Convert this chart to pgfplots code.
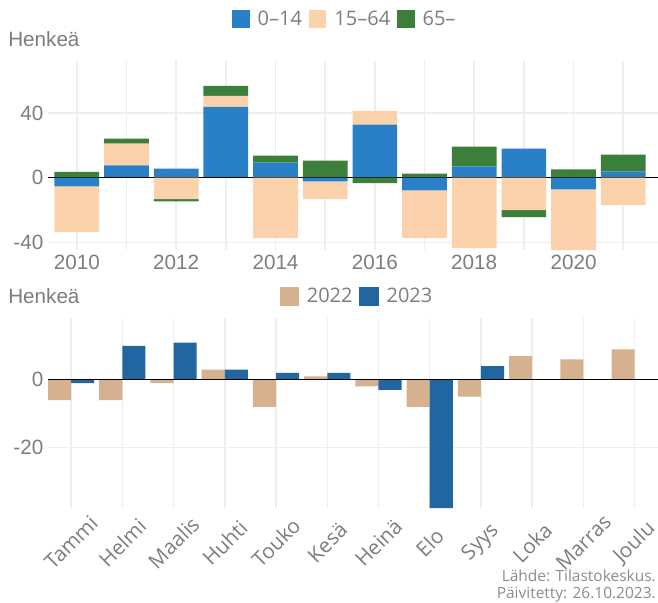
\documentclass[border=0pt]{standalone}
\usepackage{fontspec}
\setmainfont{Liberation Sans}
\newfontfamily\legfont{Open Sans}
\usepackage{pgfplots}
\usepackage{pgfplotstable}
\pgfplotsset{compat=1.18}
\definecolor{cblue}{RGB}{42,128,198}
\definecolor{cpeach}{RGB}{252,210,172}
\definecolor{cgreen}{RGB}{59,127,59}
\definecolor{ctan}{RGB}{214,177,143}
\definecolor{cdblue}{RGB}{33,102,161}
\definecolor{txt}{RGB}{125,125,125}
\definecolor{captxt}{RGB}{140,140,140}
\definecolor{gridc}{RGB}{238,238,238}

% positive parts (stacked upward: 0-14, 15-64, 65-)
\pgfplotstableread{
year blue peach green
2010 0    0    3.7
2011 7.6  13.5 3.1
2012 5.7  0    0
2013 43.9 6.8  6.1
2014 9.4  0    4.3
2015 0    0    10.6
2016 32.8 8.6  0
2017 0    0    2.6
2018 7.0  0    12.3
2019 18.0 0    0
2020 0    0    5.1
2021 3.9  0    10.4
}\pos
% negative parts (stacked downward)
\pgfplotstableread{
year blue peach green
2010 -5.3 -28.2 0
2011 0    0     0
2012 0    -13.3 -1.3
2013 0    0     0
2014 0    -37.3 0
2015 -2.3 -11.0 0
2016 0    0     -3.3
2017 -7.8 -29.5 0
2018 0    -43.5 0
2019 0    -20.1 -4.3
2020 -7.2 -37.5 0
2021 0    -17.0 0
}\neg
% monthly: index 2022 2023
\pgfplotstableread{
m y
0 -6
1 -6
2 -1
3 3
4 -8
5 1
6 -2
7 -8
8 -5
9 7
10 6
11 9
}\mtwo
\pgfplotstableread{
m y
0 -1
1 10
2 11
3 3
4 2
5 2
6 -3
7 -38
8 4
}\mthree

\pgfplotsset{
  sqA/.style={legend image code/.code={\fill[##1] (0pt,-6.65pt) rectangle (13.3pt,6.65pt);}},
  sqB/.style={legend image code/.code={\fill[##1] (0pt,-7.1pt) rectangle (14.5pt,7.1pt);}},
  base/.style={
    scale only axis, width=457.5pt,
    axis line style={draw=none},
    tick style={draw=none},
    ticklabel style={font=\fontsize{15.5}{18}\selectfont, text=txt},
    /pgf/number format/assume math mode=true,
    /pgf/number format/1000 sep={},
    grid style={gridc, line width=1.1pt},
    minor grid style={gridc, line width=1.1pt},
    legend style={draw=none, fill=none, font=\legfont\fontsize{15}{18}\selectfont, text=txt,
      /tikz/every even column/.append style={column sep=3pt},
      /tikz/every odd column/.append style={column sep=4pt}},
    legend cell align=left,
  },
  topax/.style={base, at={(36pt,-45.75pt)}, anchor=north west, height=141.75pt,
    xmin=2009.42, xmax=2021.7, ymin=-44.7, ymax=72.2,
    ybar stacked, bar width=0.9},
}

\begin{document}
\begin{tikzpicture}
\useasboundingbox (0,0) rectangle (493.5pt,-452.25pt);

% ---------- top panel ----------
\begin{axis}[topax,
  xtick={2010,2012,...,2020}, minor xtick={2011,2013,...,2021},
  ytick={-40,0,40},
  xmajorgrids, xminorgrids, ymajorgrids,
  legend columns=3,
  legend style={at={(axis description cs:0.487,1.222)}, anchor=center}]
\addplot[fill=cblue, draw=none, sqA] table[x=year,y=blue]{\pos};
\addlegendentry{0–14}
\addplot[fill=cpeach, draw=none, sqA] table[x=year,y=peach]{\pos};
\addlegendentry{15–64}
\addplot[fill=cgreen, draw=none, sqA] table[x=year,y=green]{\pos};
\addlegendentry{65–}
\end{axis}
\begin{axis}[topax, hide axis]
\addplot[fill=cblue, draw=none] table[x=year,y=blue]{\neg};
\addplot[fill=cpeach, draw=none] table[x=year,y=peach]{\neg};
\addplot[fill=cgreen, draw=none] table[x=year,y=green]{\neg};
\draw[black, line width=1pt] (axis cs:2009.42,0) -- (axis cs:2021.7,0);
\end{axis}

% ---------- bottom panel ----------
\begin{axis}[base, at={(36pt,-238.7pt)}, anchor=north west, height=142.5pt,
  xmin=-0.45, xmax=11.455, ymin=-38.05, ymax=18.2,
  ybar, bar width=0.45,
  xtick={0,...,11},
  xticklabels={Tammi,Helmi,Maalis,Huhti,Touko,Kesä,Heinä,Elo,Syys,Loka,Marras,Joulu},
  xticklabel style={font=\legfont\fontsize{15.5}{18}\selectfont, text=txt, anchor=center, yshift=-21.5pt, rotate=45},
  ytick={-40,-20,0,20},
  xmajorgrids, ymajorgrids,
  legend columns=2,
  legend style={at={(axis description cs:0.507,1.117)}, anchor=center}]
\addplot[fill=ctan, draw=none, bar shift=-0.225, sqB] table[x=m,y=y]{\mtwo};
\addlegendentry{2022}
\addplot[fill=cdblue, draw=none, bar shift=0.225, sqB] table[x=m,y=y]{\mthree};
\addlegendentry{2023}
\draw[black, line width=1pt] (axis cs:-0.45,0) -- (axis cs:11.455,0);
\end{axis}

% axis titles and caption
\node[anchor=base west, inner sep=0pt, text=txt, font=\fontsize{15.5}{18}\selectfont] at (6pt,-35pt) {Henkeä};
\node[anchor=base west, inner sep=0pt, text=txt, font=\fontsize{15.5}{18}\selectfont] at (6pt,-227.5pt) {Henkeä};
\node[anchor=base east, inner sep=0pt, text=captxt, font=\legfont\fontsize{11.6}{13}\selectfont] at (492pt,-435.75pt) {Lähde: Tilastokeskus.};
\node[anchor=base east, inner sep=0pt, text=captxt, font=\legfont\fontsize{11.6}{13}\selectfont] at (492pt,-448.5pt) {Päivitetty: 26.10.2023.};
\end{tikzpicture}
\end{document}
